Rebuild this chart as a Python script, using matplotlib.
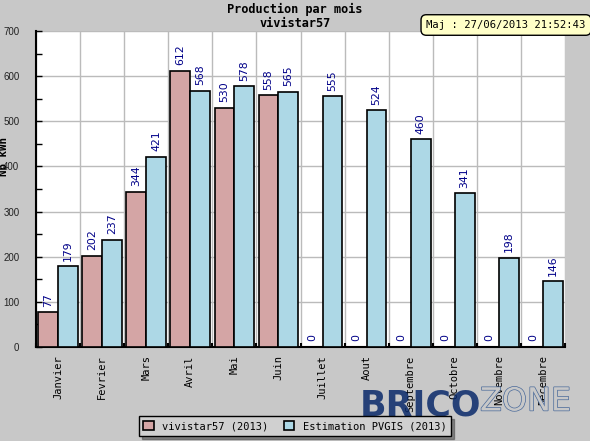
import matplotlib
matplotlib.use("Agg")
import matplotlib.pyplot as plt
import matplotlib.patheffects as pe
import numpy as np

months = ["Janvier", "Fevrier", "Mars", "Avril", "Mai", "Juin", "Juillet",
          "Aout", "Septembre", "Octobre", "Novembre", "Decembre"]
vivistar = [77, 202, 344, 612, 530, 558, 0, 0, 0, 0, 0, 0]
pvgis = [179, 237, 421, 568, 578, 565, 555, 524, 460, 341, 198, 146]
yticks = [0, 100, 200, 300, 400, 500, 600, 700]

bg = "#c8c8c8"
pink = "#d4a5a5"
blue = "#add8e6"
navy = "#000088"
mono = "DejaVu Sans Mono"

fig = plt.figure(figsize=(5.9, 4.41), dpi=100, facecolor=bg)
ax = fig.add_axes([36/590, 1-347/441, (565-36)/590, (347-31)/441])
ax.set_facecolor("white")

x = np.arange(len(months))
w = 0.45
b1 = ax.bar(x + 0.5 - w/2, vivistar, width=w, color=pink, edgecolor="black", linewidth=1.2, zorder=3)
b2 = ax.bar(x + 0.5 + w/2, pvgis, width=w, color=blue, edgecolor="black", linewidth=1.2, zorder=3)

for bars, vals in ((b1, vivistar), (b2, pvgis)):
    for r, v in zip(bars, vals):
        ax.annotate(str(v), (r.get_x() + r.get_width()/2, v), xytext=(0, 4),
                    textcoords="offset points", rotation=90, ha="center", va="bottom",
                    color=navy, fontsize=7.8, family="DejaVu Sans", zorder=4)

ax.set_xlim(0, 12)
ax.set_ylim(0, 700)
ax.set_yticks(yticks)
ax.set_yticklabels([str(t) for t in yticks], family="Liberation Sans", fontsize=7, color="#222222")
ax.set_yticks(np.arange(50, 700, 100), minor=True)
ax.set_xticks(x + 0.5)
ax.set_xticklabels(months, rotation=90, family=mono, fontsize=7.5, va="top")
ax.set_xticks(np.arange(0, 13), minor=True)
ax.tick_params(axis="x", which="major", length=0, pad=6)
ax.tick_params(axis="x", which="minor", direction="in", length=3, width=1.5)
ax.tick_params(axis="y", which="both", direction="in", length=4, width=1, pad=12)
ax.grid(axis="y", which="major", color="#bbbbbb", linewidth=1, zorder=0)
ax.grid(axis="x", which="minor", color="#bbbbbb", linewidth=1, zorder=0)
for s in ("top", "right"):
    ax.spines[s].set_visible(False)
for s in ("left", "bottom"):
    ax.spines[s].set_linewidth(1.5)

fig.text(4/590, 1-156/441, "Nb kWh", rotation=90, ha="center", va="center",
         family=mono, fontweight="bold", fontsize=7.8)

fig.text(0.5, 1-3/441, "Production par mois\nvivistar57", ha="center", va="top",
         family=mono, fontweight="bold", fontsize=8.6, linespacing=1.05)

fig.text(506/590, 1-25/441, "Maj : 27/06/2013 21:52:43", ha="center", va="center",
         family=mono, fontsize=7.6,
         bbox=dict(boxstyle="round,pad=0.5,rounding_size=0.5", fc="#ffffc8", ec="black", lw=1))

leg = fig.legend([b1, b2], ["vivistar57 (2013)", "Estimation PVGIS (2013)"], ncol=2,
                 loc="center", bbox_to_anchor=(295/590, 1-426/441), frameon=True,
                 prop=dict(family=mono, size=7.5), fancybox=False, shadow=True,
                 handlelength=1.0, handleheight=1.0, columnspacing=1.5, borderpad=0.45)
leg.get_frame().set_facecolor("#d0d0d0")
leg.get_frame().set_edgecolor("black")

fig.text(360/590, 1-405/441, "BRICO", ha="left", va="center", color="#0a2a6a",
         fontsize=25, fontweight="bold", family="DejaVu Sans", alpha=0.85)
t = fig.text(480/590, 1-402/441, "ZONE", ha="left", va="center", color=bg,
             fontsize=23, family="DejaVu Sans")
t.set_path_effects([pe.withStroke(linewidth=1, foreground="#4a6a9a")])

fig.savefig("out.png", dpi=100, facecolor=bg)
